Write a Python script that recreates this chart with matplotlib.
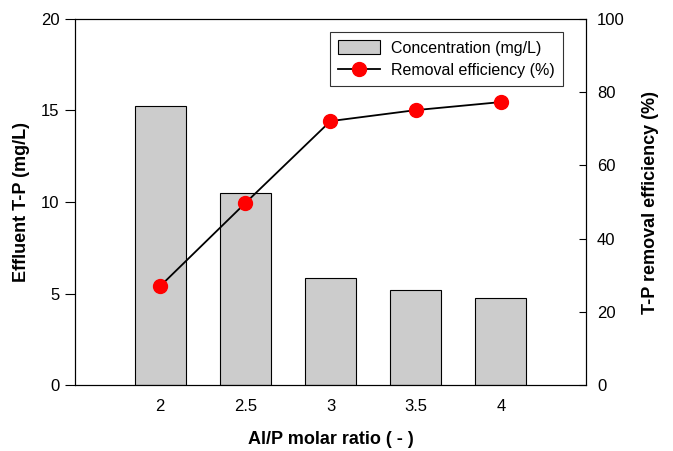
import matplotlib
matplotlib.use("Agg")
import matplotlib.pyplot as plt

plt.rcParams['font.family'] = ['Liberation Sans', 'DejaVu Sans']

ratio = [2, 2.5, 3, 3.5, 4]
conc = [15.25, 10.5, 5.85, 5.2, 4.75]
removal = [27.0, 49.7, 72.1, 75.1, 77.3]

fig = plt.figure(figsize=(6.73, 4.51), dpi=100)
ax = fig.add_axes([0.1114, 0.1463, 0.7593, 0.8116])
ax.bar(ratio, conc, width=0.3, color='#cccccc', edgecolor='black', linewidth=0.8,
       label='Concentration (mg/L)')
ax.set_xlim(1.5, 4.5)
ax.set_ylim(0, 20)
ax.set_xticks(ratio)
ax.set_xticklabels(['2', '2.5', '3', '3.5', '4'])
ax.set_yticks([0, 5, 10, 15, 20])
ax.tick_params(axis='x', length=0, labelsize=12, pad=10)
ax.tick_params(axis='y', direction='out', length=7, labelsize=12, pad=4)
ax.set_xlabel('Al/P molar ratio ( - )', fontsize=13, fontweight='bold', labelpad=12)
ax.set_ylabel('Effluent T-P (mg/L)', fontsize=13, fontweight='bold', labelpad=8)

ax2 = ax.twinx()
ax2.plot(ratio, removal, color='black', linewidth=1.3, marker='o', markersize=10,
         markerfacecolor='red', markeredgecolor='red', label='Removal efficiency (%)')
ax2.set_ylim(0, 100)
ax2.set_yticks([0, 20, 40, 60, 80, 100])
ax2.tick_params(axis='y', direction='in', length=5, labelsize=12, pad=8)
ax2.set_ylabel('T-P removal efficiency (%)', fontsize=13, fontweight='bold', labelpad=12)

h1, l1 = ax.get_legend_handles_labels()
h2, l2 = ax2.get_legend_handles_labels()
leg = ax2.legend(h1 + h2, l1 + l2, loc='upper right', bbox_to_anchor=(0.97, 0.985),
                 fontsize=11.5, frameon=True, fancybox=False, edgecolor='black',
                 handlelength=2.6, handleheight=0.9, borderpad=0.5, labelspacing=0.45,
                 handletextpad=0.7)
leg.get_frame().set_linewidth(0.8)

fig.savefig('out.png', dpi=100)
